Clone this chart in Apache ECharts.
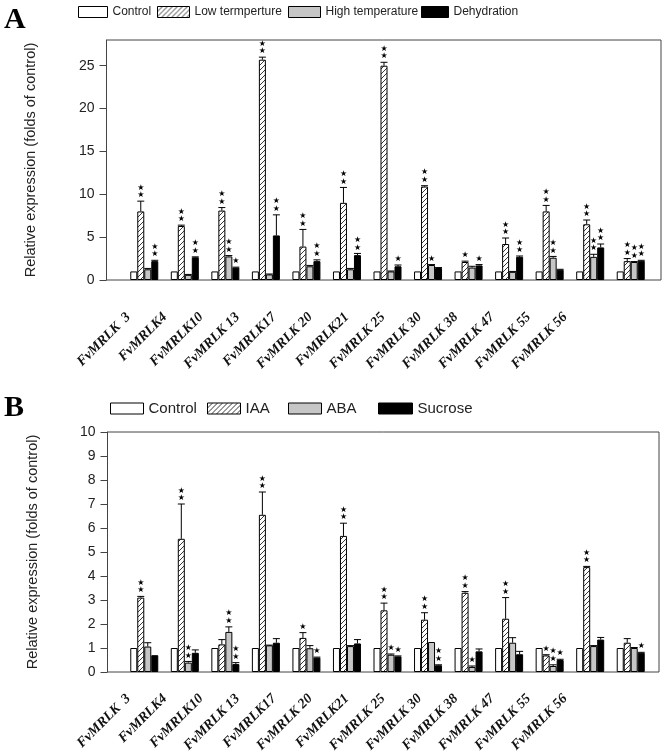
<!DOCTYPE html>
<html><head><meta charset="utf-8">
<script src="https://cdn.jsdelivr.net/npm/echarts@6/dist/echarts.min.js"></script>
<style>html,body{margin:0;padding:0;background:#fff}#c{width:666px;height:755px}</style>
</head><body><div id="c"></div>
<script>
// ---------- data ----------
const categories = ['FvMRLK  3','FvMRLK4','FvMRLK10','FvMRLK 13','FvMRLK17','FvMRLK 20','FvMRLK21','FvMRLK 25','FvMRLK 30','FvMRLK 38','FvMRLK 47','FvMRLK 55','FvMRLK 56'];

// Panel A
const namesA = ['Control','Low termperture','High temperature','Dehydration'];
const aControl = [1,1,1,1,1,1,1,1,1,1,1,1,1];
const aLow     = [8.0, 6.3, 8.1, 25.7, 3.9, 9.0, 25.0, 10.9, 2.1, 4.2, 8.0, 6.5, 2.2];
const aLowErr  = [9.2, 6.4, 8.45, 26.0, 5.9, 10.8, 25.4, 11.0, 2.2, 4.9, 8.7, 7.0, 2.5];
const aHigh    = [1.25, 0.6, 2.75, 0.65, 1.6, 1.25, 1.0, 1.75, 1.45, 0.95, 2.6, 2.7, 2.1];
const aHighErr = [1.35, 0.65, 2.85, 0.7, 1.7, 1.35, 1.05, 1.8, 1.6, 1.0, 2.75, 3.0, 2.15];
const aDeh     = [2.2, 2.65, 1.45, 5.2, 2.2, 2.9, 1.6, 1.4, 1.7, 2.7, 1.2, 3.8, 2.25];
const aDehErr  = [2.3, 2.7, 1.5, 7.6, 2.35, 3.1, 1.75, 1.45, 1.8, 2.8, 1.25, 4.2, 2.3];
const aLowStars  = [2,2,2,2,2,2,2,2,1,2,2,2,2];
const aHighStars = [0,0,2,0,0,0,0,1,0,0,2,2,2];
const aDehStars  = [2,2,1,2,2,2,1,0,1,2,0,2,2];
const aTicks = [0,5,10,15,20,25];

// Panel B
const namesB = ['Control','IAA','ABA','Sucrose'];
const bControl = [1,1,1,1,1,1,1,1,1,1,1,1,1];
const bIAA     = [3.1, 5.55, 1.15, 6.55, 1.42, 5.67, 2.57, 2.18, 3.3, 2.22, 0.69, 4.37, 1.22];
const bIAAErr  = [3.15, 7.0, 1.35, 7.5, 1.64, 6.2, 2.87, 2.47, 3.35, 3.1, 0.72, 4.4, 1.39];
const bABA     = [1.06, 0.39, 1.67, 1.11, 0.99, 1.08, 0.72, 1.25, 0.21, 1.22, 0.25, 1.08, 1.0];
const bABAErr  = [1.22, 0.44, 1.88, 1.12, 1.1, 1.1, 0.75, 1.25, 0.25, 1.43, 0.3, 1.1, 1.02];
const bSuc     = [0.7, 0.8, 0.33, 1.22, 0.6, 1.19, 0.65, 0.28, 0.86, 0.74, 0.5, 1.35, 0.8];
const bSucErr  = [0.7, 0.92, 0.39, 1.39, 0.62, 1.35, 0.67, 0.3, 0.96, 0.86, 0.53, 1.44, 0.82];
const bIAAStars = [2,2,0,2,1,2,2,2,2,2,1,2,0];
const bABAStars = [0,2,2,0,0,0,1,0,1,0,2,0,0];
const bSucStars = [0,0,2,0,1,0,1,2,0,0,1,0,1];
const bTicks = [0,1,2,3,4,5,6,7,8,9,10];

// ---------- styling ----------
function hatchCanvas(){
  const c = document.createElement('canvas'); c.width = 5; c.height = 5;
  const g = c.getContext('2d');
  g.fillStyle = '#fff'; g.fillRect(0,0,5,5);
  g.strokeStyle = '#222'; g.lineWidth = 0.9;
  g.beginPath(); g.moveTo(-1,6); g.lineTo(6,-1); g.stroke();
  return c;
}
const HATCH = {image: hatchCanvas(), repeat: 'repeat'};
const fills = ['#ffffff', HATCH, '#c6c6c6', '#000000'];
const BW = 7;
const txt = '#222';
const sans = "'Liberation Sans',Arial,sans-serif";
const serif = "'Liberation Serif','Times New Roman',serif";

function errRender(offsetPx){
  return function(params, api){
    const idx = api.value(0);
    const base = api.coord([idx, api.value(1)]);
    const top = api.coord([idx, api.value(2)]);
    const n = api.value(3);
    const cx = base[0] + offsetPx;
    const ch = [];
    if (api.value(2) > api.value(1) + 1e-9) {
      ch.push({type:'line', shape:{x1:cx,y1:base[1],x2:cx,y2:top[1]}, style:{stroke:'#000',lineWidth:1}});
      ch.push({type:'line', shape:{x1:cx-3.5,y1:top[1],x2:cx+3.5,y2:top[1]}, style:{stroke:'#000',lineWidth:1}});
    }
    for (let k=0;k<n;k++){
      ch.push({type:'text', style:{text:'\u2605', x:cx, y:top[1]-6-k*7.5, align:'center', verticalAlign:'middle', fontSize:8, fontFamily:'DejaVu Sans', fill:'#000'}});
    }
    return {type:'group', children: ch};
  };
}

function panelSeries(gi, names, vals, errs, stars){
  const out = [];
  names.forEach((nm,i)=>{
    out.push({
      name:nm, type:'bar', xAxisIndex:gi, yAxisIndex:gi,
      barWidth:BW, barGap:'0%',
      itemStyle:{color:fills[i], borderColor:'#000', borderWidth:1},
      data: vals[i], z:2, animation:false
    });
  });
  for (let i=1;i<4;i++){
    out.push({
      type:'custom', xAxisIndex:gi, yAxisIndex:gi, z:3, silent:true, animation:false,
      renderItem: errRender((i-1.5)*BW),
      data: vals[i].map((v,j)=>[j, v, errs[i-1][j], stars[i-1][j]])
    });
  }
  return out;
}

// bar axis (no labels) and separate label axis
function xBar(gi){
  return {type:'category', gridIndex:gi, data:categories,
    axisLine:{show:false}, axisTick:{show:false}, axisLabel:{show:false}};
}
function xLab(gi){
  return {
    type:'category', gridIndex:gi, data:categories,
    axisLine:{show:false}, axisTick:{show:false},
    axisLabel:{rotate:45, interval:0, margin:35,
      fontFamily:serif, fontStyle:'italic', fontWeight:'bold',
      fontSize:14, color:'#111'}
  };
}
function yAx(gi, max, interval, ticks, off){
  return {
    type:'value', gridIndex:gi, min:0, max:max, interval:interval, offset:off,
    splitLine:{show:false},
    axisLine:{show:true, lineStyle:{color:'#444'}},
    axisTick:{show:true, length:7, lineStyle:{color:'#444'}, customValues:ticks},
    axisLabel:{margin:12, fontFamily:sans, fontSize:14, color:txt, customValues:ticks},
    name:'Relative expression (folds of control)', nameLocation:'middle', nameGap:off+51,
    nameTextStyle:{fontFamily:sans, fontSize:14.5, color:txt}
  };
}
function hidden(gi, t){ return {gridIndex:gi, type:t||'value', show:false}; }

function legendItem(name, left, top, w, h, fs){
  return {data:[name], left:left, top:top, padding:0, itemWidth:w, itemHeight:h, itemGap:0,
    icon:'rect', selectedMode:false,
    itemStyle:{borderColor:'#000', borderWidth:1},
    textStyle:{fontFamily:sans, fontSize:fs, color:txt}};
}

const option = {
  backgroundColor:'#fff',
  animation:false,
  grid:[
    {left:124, width:527, top:40, height:240},
    {left:124, width:527, top:432, height:240},
    {left:106.5, width:554.5, top:40, height:240, show:true, borderColor:'#444', borderWidth:1, backgroundColor:'transparent'},
    {left:107.5, width:551.5, top:432, height:240, show:true, borderColor:'#444', borderWidth:1, backgroundColor:'transparent'},
    {left:110.3, width:473, top:40, height:240},
    {left:110.3, width:473, top:432, height:240}
  ],
  xAxis:[xBar(0), xBar(1), hidden(2), hidden(3), xLab(4), xLab(5)],
  yAxis:[yAx(0, 28, 5, aTicks, 17.5), yAx(1, 10, 1, bTicks, 16.5), hidden(2), hidden(3), hidden(4), hidden(5)],
  legend:[
    legendItem('Control', 78, 6, 29, 11, 12),
    legendItem('Low termperture', 157, 6, 32, 11, 12),
    legendItem('High temperature', 288, 6, 32, 11, 12),
    legendItem('Dehydration', 421, 6, 27, 11, 12),
    legendItem('Control', 110, 401, 33, 11, 15),
    legendItem('IAA', 207, 401, 33, 11, 15),
    legendItem('ABA', 288, 401, 33, 11, 15),
    legendItem('Sucrose', 378, 401, 34, 11, 15)
  ],
  graphic:[
    {type:'text', left:4, top:5, style:{text:'A', fontFamily:serif, fontWeight:'bold', fontSize:30, fill:'#000'}},
    {type:'text', left:4, top:393, style:{text:'B', fontFamily:serif, fontWeight:'bold', fontSize:30, fill:'#000'}}
  ],
  series: [].concat(
    panelSeries(0, namesA, [aControl,aLow,aHigh,aDeh], [aLowErr,aHighErr,aDehErr], [aLowStars,aHighStars,aDehStars]),
    panelSeries(1, namesB, [bControl,bIAA,bABA,bSuc], [bIAAErr,bABAErr,bSucErr], [bIAAStars,bABAStars,bSucStars])
  )
};
const chart = echarts.init(document.getElementById('c'), null, {renderer:'canvas'});
chart.setOption(option);
</script>
</body></html>
